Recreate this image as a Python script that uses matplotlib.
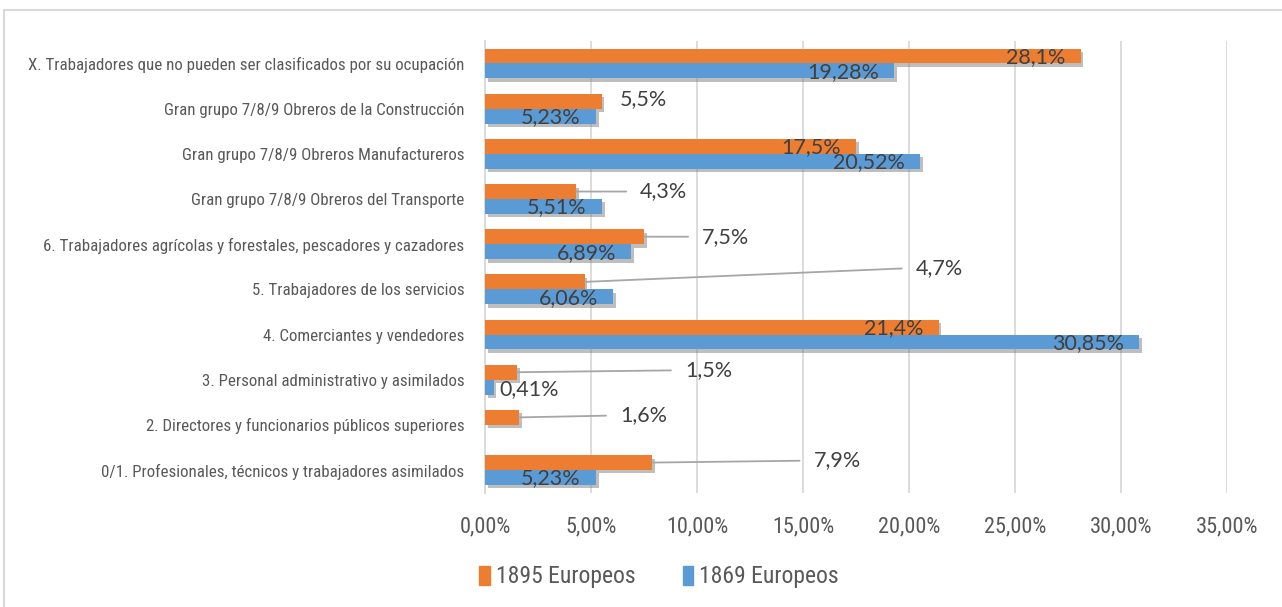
import matplotlib
matplotlib.use('Agg')
import matplotlib.pyplot as plt
import matplotlib.patheffects as pe
from matplotlib.patches import Rectangle
from matplotlib import font_manager
import numpy as np

# categories from bottom to top (as drawn)
categories = [
    '0/1. Profesionales, técnicos y trabajadores asimilados',
    '2. Directores y funcionarios públicos superiores',
    '3. Personal administrativo y asimilados',
    '4. Comerciantes y vendedores',
    '5. Trabajadores de los servicios',
    '6. Trabajadores agrícolas y forestales, pescadores y cazadores',
    'Gran grupo 7/8/9 Obreros del Transporte',
    'Gran grupo 7/8/9 Obreros Manufactureros',
    'Gran grupo 7/8/9 Obreros de la Construcción',
    'X. Trabajadores que no pueden ser clasificados por su ocupación',
]
europeos_1895 = [7.9, 1.6, 1.5, 21.4, 4.7, 7.5, 4.3, 17.5, 5.5, 28.1]
europeos_1869 = [5.23, None, 0.41, 30.85, 6.06, 6.89, 5.51, 20.52, 5.23, 19.28]
labels_1895 = ['7,9%', '1,6%', '1,5%', '21,4%', '4,7%', '7,5%', '4,3%', '17,5%', '5,5%', '28,1%']
labels_1869 = ['5,23%', '', '0,41%', '30,85%', '6,06%', '6,89%', '5,51%', '20,52%', '5,23%', '19,28%']
xticks = [0, 5, 10, 15, 20, 25, 30, 35]
xticklabels = ['0,00%', '5,00%', '10,00%', '15,00%', '20,00%', '25,00%', '30,00%', '35,00%']

# label placement: None = inside end, else (dx, dy, leader) in pixels from bar end
place_1895 = [(161, -2, True), (101, -2, True), (168, -2, True), None, (331, -14, True),
              (58, 0, True), (64, 0, True), None, (18, -2, False), None]
place_1869 = [None, None, (6, 2, False), None, None, None, None, None, None, None]

ORANGE = '#ED7D31'
BLUE = '#5B9BD5'
TEXT = '#404040'
GRID = '#D9D9D9'

# condensed face for axis texts
names = {f.name for f in font_manager.fontManager.ttflist}
cond = dict(family='DejaVu Sans', stretch='condensed')
for n in ['Liberation Sans Narrow', 'Roboto Condensed', 'Open Sans Condensed']:
    if n in names:
        cond = dict(family=n)
        break
lblfont = 'Lato' if 'Lato' in names else 'DejaVu Sans'

fig = plt.figure(figsize=(12.82, 6.07), dpi=100)
ax = fig.add_axes([485 / 1282, 1 - 492.6 / 607, 742 / 1282, 451.7 / 607])

y = np.arange(len(categories))
h = 0.33
shadow = [pe.SimplePatchShadow(offset=(2, -2.5), shadow_rgbFace='#7f7f7f', alpha=0.5), pe.Normal()]

v95 = np.array(europeos_1895, dtype=float)
v69 = np.array([v if v is not None else 0 for v in europeos_1869], dtype=float)
b95 = ax.barh(y + h / 2, v95, height=h, color=ORANGE, zorder=3)
b69 = ax.barh(y - h / 2, v69, height=h, color=BLUE, zorder=3)
for b in list(b95) + list(b69):
    if b.get_width() > 0:
        b.set_path_effects(shadow)


def put_labels(vals, ys, texts, places):
    for v, yy, t, p in zip(vals, ys, texts, places):
        if not t:
            continue
        if p is None:
            ax.annotate(t, xy=(v, yy), xytext=(-15, -1), textcoords='offset pixels',
                        ha='right', va='center', fontsize=15.5, color=TEXT,
                        family=lblfont, zorder=5)
        else:
            dx, dy, leader = p
            ap = None
            if leader:
                ap = dict(arrowstyle='-', color='#A6A6A6', lw=1.3, shrinkA=8, shrinkB=0,
                          relpos=(0, 0.5))
            ax.annotate(t, xy=(v, yy), xytext=(dx, -dy), textcoords='offset pixels',
                        ha='left', va='center', fontsize=15.5, color=TEXT,
                        family=lblfont, arrowprops=ap, zorder=5)


put_labels(v95, y + h / 2, labels_1895, place_1895)
put_labels(v69, y - h / 2, labels_1869, place_1869)

ax.set_xlim(0, 35)
ax.set_ylim(-0.5, len(categories) - 0.5)
ax.set_xticks(xticks)
ax.set_xticklabels(xticklabels, fontsize=16, color='#595959', **cond)
ax.set_yticks(y)
ax.set_yticklabels(categories, fontsize=12.2, color='#595959', **cond)
ax.tick_params(axis='both', length=0)
ax.tick_params(axis='x', pad=17)
ax.tick_params(axis='y', pad=15)
ax.grid(axis='x', color=GRID, lw=1.3, zorder=0)
ax.set_axisbelow(True)
for s in ['top', 'right', 'bottom']:
    ax.spines[s].set_visible(False)
ax.spines['left'].set_color(GRID)
ax.spines['left'].set_linewidth(1.3)

handles = [Rectangle((0, 0), 1, 1, color=ORANGE), Rectangle((0, 0), 1, 1, color=BLUE)]
leg = fig.legend(handles, ['1895 Europeos', '1869 Europeos'], loc='center',
                 bbox_to_anchor=(659 / 1282, 1 - 577 / 607), ncol=2, frameon=False,
                 prop=font_manager.FontProperties(size=17, **cond), labelcolor='#595959',
                 handlelength=0.45, handleheight=0.9, handletextpad=0.25, columnspacing=2.0)

# chart frame
fig.patches.append(Rectangle((4 / 1282, -0.05), 1.1, 1 - 10 / 607 + 0.05,
                             transform=fig.transFigure, fill=False,
                             edgecolor=GRID, lw=1.5))

fig.savefig('out.png', dpi=100)
